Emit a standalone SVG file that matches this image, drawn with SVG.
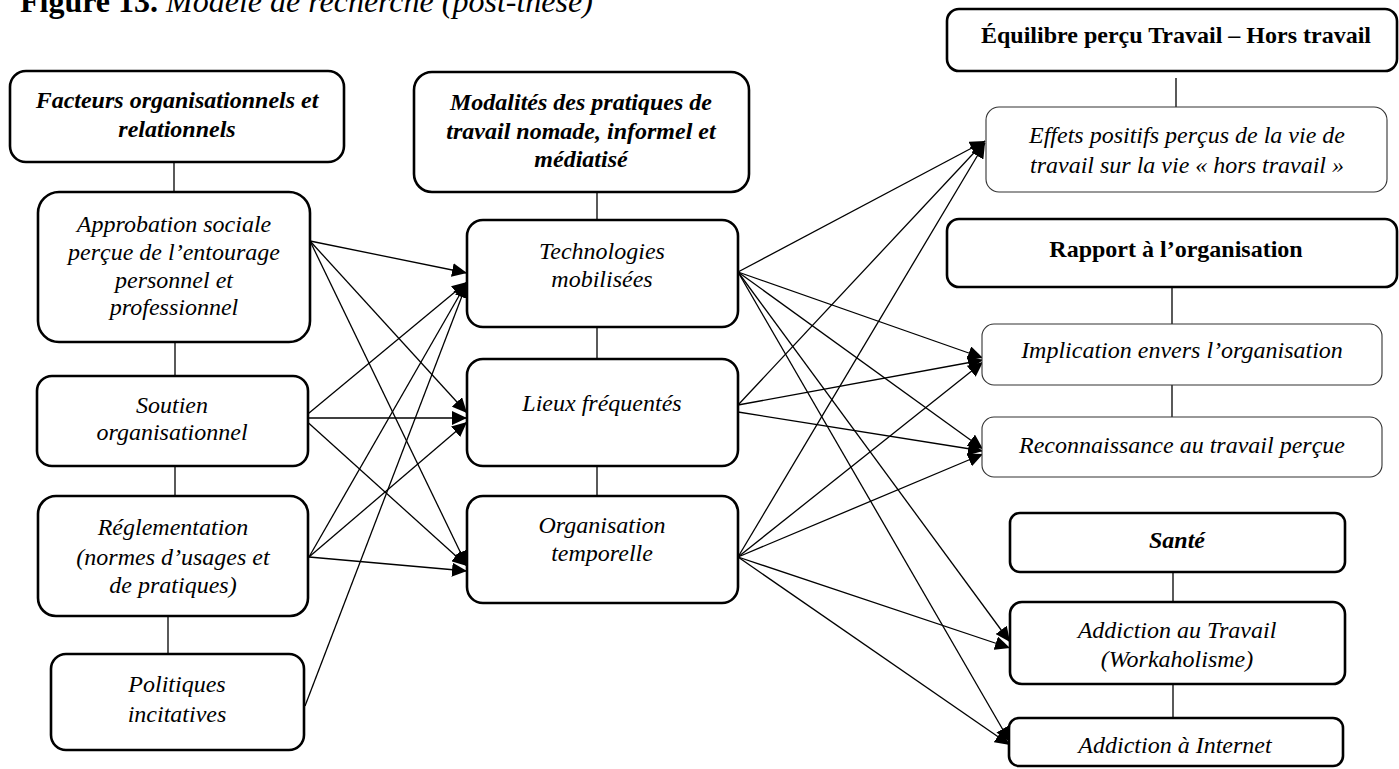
<svg xmlns="http://www.w3.org/2000/svg" width="1399" height="769" viewBox="0 0 1399 769">
<defs>
<style>
text{font-family:"Liberation Serif","Times New Roman",serif;font-size:24px;fill:#000;text-anchor:middle}
.it{font-style:italic}
.bi{font-style:italic;font-weight:bold}
.b{font-weight:bold}
.box{fill:#fff;stroke:#000;stroke-width:2.6}
.thin{fill:#fff;stroke:#333;stroke-width:1.1}
.ln{stroke:#000;stroke-width:1.3;fill:none}
.ar{stroke:#000;stroke-width:1.3;fill:none;marker-end:url(#ah)}
</style>
<marker id="ah" markerUnits="userSpaceOnUse" markerWidth="16" markerHeight="14" refX="15" refY="7" orient="auto"><path d="M0,0 L15,7 L0,14 z" fill="#000"/></marker>
</defs>
<rect width="1399" height="769" fill="#fff"/>
<text x="20" y="12" style="text-anchor:start;font-size:32px"><tspan class="b">Figure 13.</tspan><tspan class="it"> Modèle de recherche (post-thèse)</tspan></text>

<g id="connectors">
<line class="ln" x1="174" y1="162" x2="174" y2="192"/>
<line class="ln" x1="175" y1="342" x2="175" y2="376"/>
<line class="ln" x1="175" y1="466" x2="175" y2="496"/>
<line class="ln" x1="168" y1="616" x2="168" y2="654"/>
<line class="ln" x1="597" y1="192" x2="597" y2="220"/>
<line class="ln" x1="597" y1="327" x2="597" y2="359"/>
<line class="ln" x1="597" y1="466" x2="597" y2="496"/>
<line class="ln" x1="1176" y1="78" x2="1176" y2="107"/>
<line class="ln" x1="1172" y1="287" x2="1172" y2="324"/>
<line class="ln" x1="1172" y1="385" x2="1172" y2="417"/>
<line class="ln" x1="1173" y1="572" x2="1173" y2="602"/>
<line class="ln" x1="1173" y1="684" x2="1173" y2="718"/>
<path class="ar" d="M310,241 L467,273"/>
<path class="ar" d="M310,241 L467,413"/>
<path class="ar" d="M310,241 L467,566"/>
<path class="ar" d="M303,418 L467,282"/>
<path class="ar" d="M303,418 L467,418"/>
<path class="ar" d="M303,418 L467,566"/>
<path class="ar" d="M309,557 L467,282"/>
<path class="ar" d="M309,557 L467,422"/>
<path class="ar" d="M309,557 L467,571"/>
<path class="ar" d="M305,706 L467,283"/>
<path class="ar" d="M738,272 L985,141"/>
<path class="ar" d="M738,272 L983,358"/>
<path class="ar" d="M738,272 L983,449"/>
<path class="ar" d="M738,272 L1010,642"/>
<path class="ar" d="M738,272 L1010,742"/>
<path class="ar" d="M738,405 L985,141"/>
<path class="ar" d="M738,405 L983,360"/>
<path class="ar" d="M738,412 L983,451"/>
<path class="ar" d="M738,557 L985,143"/>
<path class="ar" d="M738,557 L983,362"/>
<path class="ar" d="M738,557 L983,454"/>
<path class="ar" d="M738,557 L1010,648"/>
<path class="ar" d="M738,557 L1010,745"/>
</g>

<g id="facteurs">
<rect class="box" x="10" y="71" width="334" height="91" rx="16"/>
<text class="bi" x="177" y="108">Facteurs organisationnels et</text>
<text class="bi" x="177" y="137">relationnels</text>
</g>
<g id="approbation">
<rect class="box" x="38" y="192" width="272" height="150" rx="21"/>
<text class="it" x="174" y="232">Approbation sociale</text>
<text class="it" x="174" y="260">perçue de l’entourage</text>
<text class="it" x="174" y="288">personnel et</text>
<text class="it" x="174" y="315">professionnel</text>
</g>
<g id="soutien">
<rect class="box" x="37" y="376" width="271" height="90" rx="15"/>
<text class="it" x="172" y="413">Soutien</text>
<text class="it" x="172" y="440">organisationnel</text>
</g>
<g id="reglementation">
<rect class="box" x="38" y="496" width="270" height="120" rx="18"/>
<text class="it" x="173" y="535">Réglementation</text>
<text class="it" x="173" y="565">(normes d’usages et</text>
<text class="it" x="173" y="593">de pratiques)</text>
</g>
<g id="politiques">
<rect class="box" x="51" y="654" width="253" height="96" rx="15"/>
<text class="it" x="177" y="692">Politiques</text>
<text class="it" x="177" y="722">incitatives</text>
</g>

<g id="modalites">
<rect class="box" x="414" y="72" width="335" height="120" rx="18"/>
<text class="bi" x="581" y="110">Modalités des pratiques de</text>
<text class="bi" x="581" y="139">travail nomade, informel et</text>
<text class="bi" x="581" y="167">médiatisé</text>
</g>
<g id="technologies">
<rect class="box" x="467" y="220" width="271" height="107" rx="16"/>
<text class="it" x="602" y="259">Technologies</text>
<text class="it" x="602" y="287">mobilisées</text>
</g>
<g id="lieux">
<rect class="box" x="467" y="359" width="271" height="107" rx="16"/>
<text class="it" x="602" y="411">Lieux fréquentés</text>
</g>
<g id="organisation">
<rect class="box" x="467" y="496" width="271" height="107" rx="16"/>
<text class="it" x="602" y="533">Organisation</text>
<text class="it" x="602" y="561">temporelle</text>
</g>

<g id="equilibre">
<rect class="box" x="947" y="9" width="450" height="62" rx="12"/>
<text class="b" x="1176" y="43">Équilibre perçu Travail – Hors travail</text>
</g>
<g id="effets">
<rect class="thin" x="986" y="107" width="401" height="85" rx="13"/>
<text class="it" x="1187" y="143">Effets positifs perçus de la vie de</text>
<text class="it" x="1187" y="173">travail sur la vie « hors travail »</text>
</g>
<g id="rapport">
<rect class="box" x="947" y="219" width="450" height="68" rx="12"/>
<text class="b" x="1176" y="257">Rapport à l’organisation</text>
</g>
<g id="implication">
<rect class="thin" x="982" y="324" width="400" height="61" rx="12"/>
<text class="it" x="1182" y="358">Implication envers l’organisation</text>
</g>
<g id="reconnaissance">
<rect class="thin" x="982" y="417" width="400" height="60" rx="12"/>
<text class="it" x="1182" y="453">Reconnaissance au travail perçue</text>
</g>
<g id="sante">
<rect class="box" x="1010" y="513" width="335" height="59" rx="10"/>
<text class="bi" x="1177" y="548">Santé</text>
</g>
<g id="workaholisme">
<rect class="box" x="1010" y="602" width="335" height="82" rx="12"/>
<text class="it" x="1177" y="638">Addiction au Travail</text>
<text class="it" x="1177" y="667">(Workaholisme)</text>
</g>
<g id="internet">
<rect class="box" x="1009" y="718" width="334" height="48" rx="10"/>
<text class="it" x="1175" y="753">Addiction à Internet</text>
</g>
</svg>
